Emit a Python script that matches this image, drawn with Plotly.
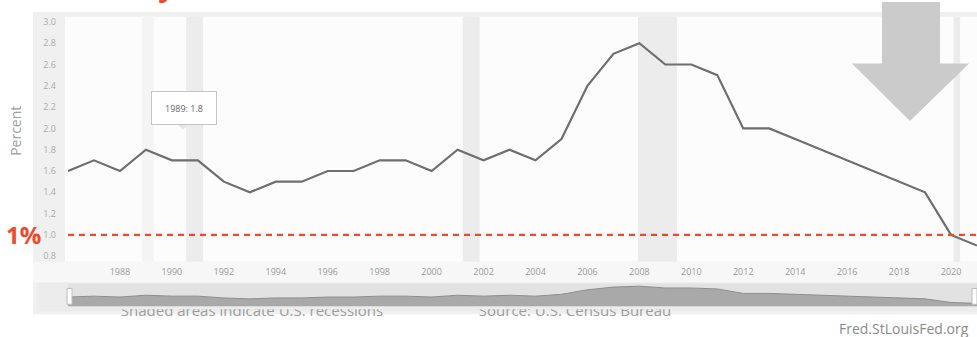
import plotly.graph_objects as go

W, H = 977, 337

# ---- data ----
years = list(range(1986, 2022))
vacancy_rate = [1.6, 1.7, 1.6, 1.8, 1.7, 1.7, 1.5, 1.4, 1.5, 1.5,
                1.6, 1.6, 1.7, 1.7, 1.6, 1.8, 1.7, 1.8, 1.7, 1.9,
                2.4, 2.7, 2.8, 2.6, 2.6, 2.5, 2.0, 2.0, 1.9, 1.8,
                1.7, 1.6, 1.5, 1.4, 1.0, 0.9]
threshold = 1.0
xtick_years = [1988, 1990, 1992, 1994, 1996, 1998, 2000, 2002, 2004,
               2006, 2008, 2010, 2012, 2014, 2016, 2018, 2020]
ytick_vals = [0.8, 1.0, 1.2, 1.4, 1.6, 1.8, 2.0, 2.2, 2.4, 2.6, 2.8, 3.0]
recession_starts = [1990.55, 2001.2, 2007.95, 2020.1]
recession_ends = [1991.2, 2001.85, 2009.45, 2020.35]
hover_year = 1989
hover_label = "1989: 1.8"
notes = ["Shaded areas indicate U.S. recessions", "Source: U.S. Census Bureau"]


def px(x):
    return x / W


def py(y):
    return 1 - y / H


fig = go.Figure()

# main line
fig.add_trace(go.Scatter(x=years, y=vacancy_rate, mode="lines",
                         line=dict(color="#6e6e6e", width=2.2),
                         xaxis="x", yaxis="y", hoverinfo="skip"))
# 1% threshold
fig.add_trace(go.Scatter(x=[years[0], years[-1]], y=[threshold, threshold], mode="lines",
                         line=dict(color="#ef4a2c", width=2.2, dash="6px,5px"),
                         xaxis="x", yaxis="y", hoverinfo="skip", cliponaxis=False))
# navigator area
fig.add_trace(go.Scatter(x=years, y=vacancy_rate, mode="lines", fill="tozeroy",
                         fillcolor="#a9a9a9", line=dict(color="#8e8e8e", width=1),
                         xaxis="x2", yaxis="y2", hoverinfo="skip"))
# clipped footer notes
fig.add_trace(go.Scatter(x=[252, 575], y=[313, 313], mode="text", text=notes,
                         textfont=dict(family="Open Sans", size=15, color="#9c9c9c"),
                         textposition="middle center", cliponaxis=True,
                         xaxis="x3", yaxis="y3", hoverinfo="skip"))

shapes = []
# outer gray frame
shapes.append(dict(type="rect", xref="paper", yref="paper", x0=px(33), x1=1, y0=py(315), y1=py(10),
                   fillcolor="#f0f0f0", line=dict(width=0), layer="below"))
# inner plot area
shapes.append(dict(type="rect", xref="paper", yref="paper", x0=px(65), x1=1, y0=py(262), y1=py(15),
                   fillcolor="#fcfcfc", line=dict(width=0), layer="below"))
# x label band
shapes.append(dict(type="rect", xref="paper", yref="paper", x0=px(33), x1=1, y0=py(283), y1=py(262),
                   fillcolor="#f7f7f7", line=dict(width=0), layer="below"))
# navigator background
shapes.append(dict(type="rect", xref="paper", yref="paper", x0=px(37), x1=1, y0=py(312), y1=py(283),
                   fillcolor="#ececec", line=dict(width=0), layer="below"))
shapes.append(dict(type="rect", xref="paper", yref="paper", x0=px(68), x1=1, y0=py(307), y1=py(284),
                   fillcolor="#e2e2e2", line=dict(width=0), layer="below"))
# recession bands
for s, e in zip(recession_starts, recession_ends):
    shapes.append(dict(type="rect", xref="x", yref="paper", x0=s, x1=e, y0=py(262), y1=py(15),
                       fillcolor="#ececec", line=dict(width=0), layer="below"))
# hover band
shapes.append(dict(type="rect", xref="x", yref="paper", x0=hover_year - 0.15, x1=hover_year + 0.3,
                   y0=py(262), y1=py(15), fillcolor="#f4f4f4", line=dict(width=0), layer="below"))
# navigator handles
shapes.append(dict(type="rect", xref="paper", yref="paper", x0=px(67), x1=px(72), y0=py(305), y1=py(289),
                   fillcolor="#ffffff", line=dict(color="#bdbdbd", width=1), layer="above"))
shapes.append(dict(type="rect", xref="paper", yref="paper", x0=px(972), x1=px(977), y0=py(305), y1=py(289),
                   fillcolor="#ffffff", line=dict(color="#bdbdbd", width=1), layer="above"))
# big down arrow
pts = [(882, 0), (940, 0), (940, 62), (969, 62), (910, 120), (852, 62), (882, 62)]
path = "M " + " L ".join(f"{px(x):.5f},{py(y):.5f}" for x, y in pts) + " Z"
shapes.append(dict(type="path", xref="paper", yref="paper", path=path,
                   fillcolor="#cbcbcb", line=dict(width=0), layer="above"))
# tooltip pointer
tp = [(178, 124), (188, 124), (183, 129)]
shapes.append(dict(type="path", xref="paper", yref="paper",
                   path="M " + " L ".join(f"{px(x):.5f},{py(y):.5f}" for x, y in tp) + " Z",
                   fillcolor="#e6e6e6", line=dict(width=0), layer="above"))

annotations = [
    dict(text="1%", xref="paper", yref="paper", x=px(4), y=py(235), xanchor="left", yanchor="middle",
         showarrow=False, font=dict(family="Open Sans", size=24, color="#ef4a2c", weight="bold")),
    dict(text="Percent", xref="paper", yref="paper", x=px(16), y=py(130), textangle=-90,
         xanchor="center", yanchor="middle", showarrow=False,
         font=dict(family="Open Sans", size=14, color="#a0a0a0")),
    dict(text="Fred.StLouisFed.org", xref="paper", yref="paper", x=px(971), y=py(329),
         xanchor="right", yanchor="middle", showarrow=False,
         font=dict(family="Open Sans", size=14, color="#8a8a8a")),
    dict(text=hover_label, xref="paper", yref="paper", x=px(184), y=py(107),
         xanchor="center", yanchor="middle", showarrow=False, width=60, height=28,
         bgcolor="#ffffff", bordercolor="#c4c4c4", borderwidth=1, borderpad=2,
         font=dict(family="Open Sans", size=9, color="#666666")),
    dict(text="Homeowner Vacancy", xref="paper", yref="paper", x=px(178), y=py(5),
         xanchor="right", yanchor="bottom", showarrow=False,
         font=dict(family="Open Sans", size=30, color="#ef4a2c", weight="bold")),
]

fig.update_layout(
    width=W, height=H,
    margin=dict(l=0, r=0, t=0, b=0),
    paper_bgcolor="#ffffff", plot_bgcolor="rgba(0,0,0,0)",
    showlegend=False,
    shapes=shapes, annotations=annotations,
    xaxis=dict(domain=[px(65), 1], range=[1985.884, 2021], tickvals=xtick_years,
               ticktext=[str(y) for y in xtick_years], showgrid=False, zeroline=False,
               showline=False, ticks="", ticklabelstandoff=3,
               tickfont=dict(family="Open Sans", size=9, color="#9a9a9a"), anchor="y"),
    yaxis=dict(domain=[py(262), py(15)], range=[0.749, 3.047], tickvals=ytick_vals,
               tickformat=".1f", showgrid=False, zeroline=False, showline=False, ticks="",
               ticklabelstandoff=8, tickfont=dict(family="Open Sans", size=9, color="#ababab"),
               anchor="x"),
    xaxis2=dict(domain=[px(65), 1], range=[1985.884, 2021], visible=False, anchor="y2"),
    yaxis2=dict(domain=[py(307), py(284)], range=[0.58, 3.1], visible=False, anchor="x2"),
    xaxis3=dict(domain=[0, 1], range=[0, W], visible=False, anchor="y3"),
    yaxis3=dict(domain=[0, py(310)], range=[H, 310], visible=False, anchor="x3"),
)

fig.write_html("out.html", config={"displayModeBar": False},
               post_script="document.body.style.margin='0';document.body.style.padding='0';"
                           "document.body.style.overflow='hidden';")
